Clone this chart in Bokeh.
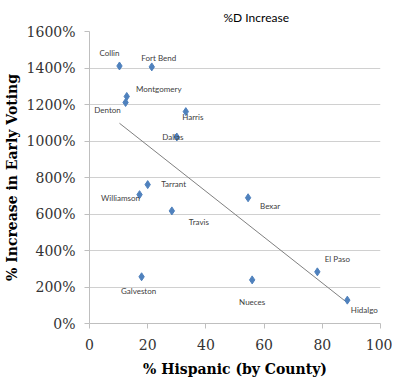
import numpy as np
from bokeh.plotting import figure
from bokeh.models import ColumnDataSource, FixedTicker, PrintfTickFormatter, Title
from bokeh.core.properties import value
from bokeh.embed import file_html
from bokeh.resources import INLINE

counties = ["Collin", "Fort Bend", "Montgomery", "Denton", "Harris", "Dallas", "Tarrant",
            "Williamson", "Travis", "Bexar", "Galveston", "Nueces", "El Paso", "Hidalgo"]
pct_hispanic = [10.3, 21.4, 12.8, 12.4, 33.1, 30.0, 20.0, 17.2, 28.3, 54.5, 17.9, 55.9, 78.3, 88.6]
pct_increase = [1411, 1406, 1244, 1211, 1161, 1022, 761, 706, 617, 689, 256, 239, 283, 128]
x_ticks = [0, 20, 40, 60, 80, 100]
y_ticks = [0, 200, 400, 600, 800, 1000, 1200, 1400, 1600]

# label offsets in screen pixels (layout)
lbl_dx = [-10, 7, 32, -18, 7, -4, 26, -19, 27, 22, -3, 0, 20, 17]
lbl_dy = [-13, -9, -7, 8, 5, 0, -1, 3, 11, 8, 14, 22, -13, 10]

src = ColumnDataSource(dict(x=pct_hispanic, y=pct_increase, name=counties,
                            dx=lbl_dx, dy=lbl_dy))

p = figure(width=392, height=383, x_range=(0, 100), y_range=(0, 1600),
           output_backend="svg", toolbar_location=None,
           min_border_left=84, min_border_right=12, min_border_top=25, min_border_bottom=60)
p.outline_line_color = None
p.background_fill_color = "white"
p.border_fill_color = "white"

p.title = Title(text="%D Increase", align="left", offset=134, standoff=14,
                text_font="Lato", text_font_size="12px", text_font_style="normal",
                text_color="#000000")

# trend line (least squares fit of the data)
coef = np.polyfit(pct_hispanic, pct_increase, 1)
tx = [min(pct_hispanic), max(pct_hispanic)]
ty = [coef[0] * v + coef[1] for v in tx]
p.line(tx, ty, line_color="#808080", line_width=1)

p.scatter("x", "y", source=src, marker="diamond", size=8,
          fill_color="#4f81bd", line_color="#4f81bd")

p.text("x", "y", text="name", source=src, x_offset="dx", y_offset="dy",
       text_font=value("Lato"), text_font_size="8px", text_color="#404040",
       text_align="center", text_baseline="middle")

p.xaxis.ticker = FixedTicker(ticks=x_ticks)
p.yaxis.ticker = FixedTicker(ticks=y_ticks)
p.yaxis.formatter = PrintfTickFormatter(format="%d%%")

for ax in (p.xaxis, p.yaxis):
    ax.axis_line_color = "#bfbfbf"
    ax.major_tick_line_color = "#bfbfbf"
    ax.minor_tick_line_color = None
    ax.major_tick_in = 0
    ax.major_tick_out = 5
    ax.major_label_text_font = "DejaVu Serif"
    ax.major_label_text_font_size = "14px"
    ax.major_label_text_color = "#333333"
    ax.axis_label_text_font = "DejaVu Serif"
    ax.axis_label_text_font_size = "14px"
    ax.axis_label_text_font_style = "bold"
    ax.axis_label_text_color = "#000000"

p.xaxis.axis_label = "% Hispanic (by County)"
p.yaxis.axis_label = "% Increase in Early Voting"
p.xaxis.major_label_standoff = 10
p.yaxis.major_label_standoff = 9
p.xaxis.axis_label_standoff = 8
p.yaxis.axis_label_standoff = 4

p.xgrid.grid_line_color = None
p.ygrid.grid_line_color = "#d0d0d0"
p.ygrid.grid_line_width = 1

open("out.html", "w").write(file_html(p, INLINE))
